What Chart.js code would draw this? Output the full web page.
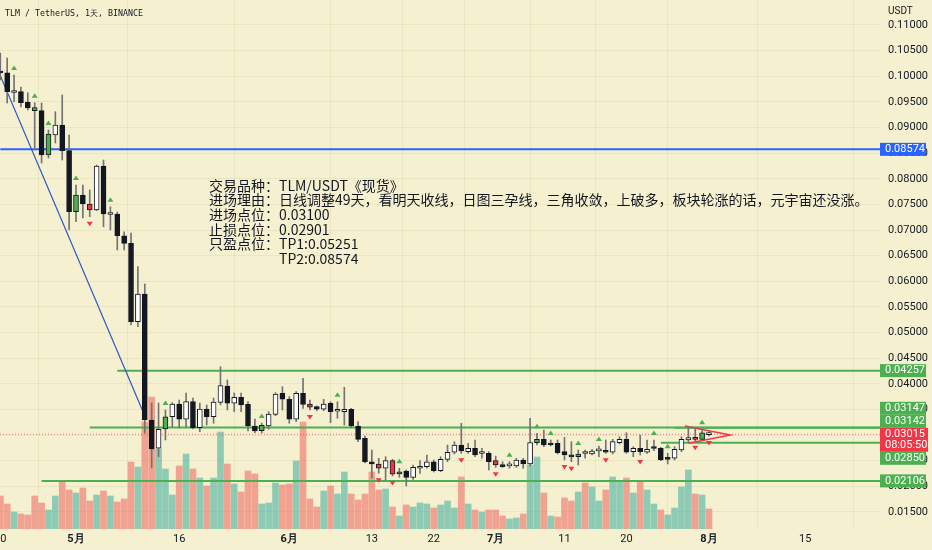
<!DOCTYPE html>
<html>
<head>
<meta charset="utf-8">
<script src="https://cdn.jsdelivr.net/npm/chart.js@4.4.1/dist/chart.umd.min.js"></script>
<style>
  html, body { margin: 0; padding: 0; background: #f5f1d0; }
  #wrap { width: 932px; height: 550px; }
</style>
</head>
<body>
<div id="wrap"><canvas id="chart" width="932" height="550"></canvas></div>
<script>
// TLM / USDT daily candles, 20 Apr -> 1 Aug (index 0 = 20 Apr)
const opens = [
  0.10103, 0.10069, 0.09683, 0.09699, 0.09498, 0.09328, 0.09328, 0.08464, 0.08854, 0.09049,
  0.08548, 0.07358, 0.07683, 0.07508, 0.07391, 0.08249, 0.07303, 0.07313, 0.06889, 0.06741,
  0.05212, 0.05752, 0.03294, 0.02742, 0.03118, 0.03358, 0.03606, 0.03308, 0.03651, 0.03144,
  0.03509, 0.03358, 0.03639, 0.03957, 0.03620, 0.03737, 0.03600, 0.03177, 0.03085, 0.03177,
  0.03405, 0.03815, 0.03698, 0.03308, 0.03815, 0.03606, 0.03557, 0.03503, 0.03620, 0.03464,
  0.03456, 0.03503, 0.03177, 0.02937, 0.02480, 0.02436, 0.02352, 0.02500, 0.02241, 0.02299,
  0.02176, 0.02352, 0.02383, 0.02480, 0.02305, 0.02527, 0.02664, 0.02806, 0.02676, 0.02742,
  0.02640, 0.02644, 0.02500, 0.02416, 0.02398, 0.02396, 0.02514, 0.02436, 0.02851, 0.02917,
  0.02840, 0.02840, 0.02676, 0.02582, 0.02578, 0.02640, 0.02631, 0.02691, 0.02695, 0.02664,
  0.02851, 0.02917, 0.02676, 0.02742, 0.02664, 0.02744, 0.02742, 0.02566, 0.02547, 0.02709,
  0.02904, 0.02956, 0.02917, 0.03010
];
const highs = [
  0.10454, 0.10356, 0.10025, 0.09790, 0.09679, 0.09484, 0.09478, 0.08952, 0.09309, 0.09634,
  0.08854, 0.07879, 0.07879, 0.07781, 0.08268, 0.08366, 0.07455, 0.07352, 0.06967, 0.06942,
  0.06285, 0.05947, 0.03626, 0.03626, 0.03489, 0.03632, 0.03684, 0.03821, 0.03723, 0.03626,
  0.03587, 0.03723, 0.04334, 0.04074, 0.03821, 0.03821, 0.03651, 0.03313, 0.03235, 0.03456,
  0.03827, 0.03944, 0.03749, 0.03846, 0.04107, 0.03684, 0.03567, 0.03698, 0.03651, 0.03651,
  0.03932, 0.03522, 0.03261, 0.02982, 0.02709, 0.02547, 0.02578, 0.02527, 0.02352, 0.02318,
  0.02416, 0.02500, 0.02611, 0.02514, 0.02578, 0.02806, 0.02871, 0.03230, 0.02840, 0.02904,
  0.02742, 0.02676, 0.02591, 0.02480, 0.02480, 0.02547, 0.02547, 0.03327, 0.03034, 0.03099,
  0.02904, 0.02904, 0.02956, 0.02871, 0.02709, 0.02709, 0.02722, 0.02787, 0.02904, 0.02917,
  0.02968, 0.03046, 0.02773, 0.03001, 0.02904, 0.02904, 0.02761, 0.02644, 0.02773, 0.02968,
  0.03163, 0.03132, 0.03113, 0.03066
];
const lows = [
  0.09927, 0.09478, 0.09504, 0.09400, 0.09342, 0.08561, 0.08308, 0.08405, 0.08698, 0.08366,
  0.07001, 0.07163, 0.07235, 0.07260, 0.07377, 0.07065, 0.07001, 0.06610, 0.06610, 0.05147,
  0.05114, 0.03040, 0.02358, 0.02578, 0.02904, 0.03163, 0.03138, 0.03163, 0.03118, 0.03066,
  0.03196, 0.03230, 0.03587, 0.03488, 0.03456, 0.03456, 0.03079, 0.03046, 0.03040, 0.03113,
  0.03378, 0.03489, 0.03230, 0.03261, 0.03522, 0.03489, 0.03475, 0.03475, 0.03241, 0.03327,
  0.03196, 0.03151, 0.02871, 0.02455, 0.02157, 0.02254, 0.02123, 0.02201, 0.02176, 0.02006,
  0.02137, 0.02254, 0.02352, 0.02280, 0.02285, 0.02480, 0.02631, 0.02644, 0.02644, 0.02578,
  0.02547, 0.02318, 0.02371, 0.02371, 0.02352, 0.02371, 0.02352, 0.02396, 0.02806, 0.02773,
  0.02787, 0.02631, 0.02514, 0.02480, 0.02416, 0.02547, 0.02611, 0.02578, 0.02644, 0.02631,
  0.02826, 0.02644, 0.02578, 0.02611, 0.02644, 0.02695, 0.02500, 0.02436, 0.02514, 0.02676,
  0.02871, 0.02890, 0.02904, 0.02982
];
const closes = [
  0.10063, 0.09699, 0.09693, 0.09484, 0.09381, 0.09387, 0.08464, 0.08874, 0.09049, 0.08548,
  0.07358, 0.07683, 0.07508, 0.07391, 0.08249, 0.07313, 0.07313, 0.06889, 0.06741, 0.05212,
  0.05752, 0.03294, 0.02728, 0.03113, 0.03358, 0.03606, 0.03308, 0.03651, 0.03144, 0.03509,
  0.03358, 0.03645, 0.03963, 0.03620, 0.03737, 0.03587, 0.03177, 0.03079, 0.03191, 0.03411,
  0.03801, 0.03698, 0.03308, 0.03815, 0.03600, 0.03542, 0.03503, 0.03606, 0.03456, 0.03470,
  0.03503, 0.03177, 0.02917, 0.02480, 0.02436, 0.02352, 0.02500, 0.02235, 0.02285, 0.02176,
  0.02371, 0.02383, 0.02480, 0.02305, 0.02527, 0.02664, 0.02806, 0.02689, 0.02742, 0.02611,
  0.02646, 0.02480, 0.02416, 0.02383, 0.02404, 0.02514, 0.02436, 0.02851, 0.02917, 0.02806,
  0.02806, 0.02656, 0.02611, 0.02576, 0.02631, 0.02646, 0.02689, 0.02697, 0.02664, 0.02871,
  0.02917, 0.02664, 0.02742, 0.02676, 0.02722, 0.02738, 0.02514, 0.02527, 0.02722, 0.02917,
  0.02949, 0.02917, 0.03046, 0.03015
];
// body colour code per candle: b black, w white, g green, r red
const bodyKinds = 'bbwbbgbgwb' + 'bgbrwbwbbb' + 'wbbwgwbwbw' + 'bwwbwbbbgw' + 'wbbwbrbwbw' +
                  'wbbbbrwrgb' + 'wwwbwwwbwb' + 'wbrbwwbwgb' + 'bbbbgwwwbw' + 'wbwbwbbbww' + 'wrgw';
// relative volume and its direction (u up / d down)
const volumes = [
  33, 25, 17, 15, 14, 33, 26, 19, 33, 48,
  39, 36, 41, 28, 34, 38, 33, 27, 30, 67,
  62, 107, 132, 80, 60, 34, 63, 75, 60, 51,
  43, 51, 97, 65, 45, 37, 58, 55, 25, 26,
  46, 44, 45, 68, 107, 30, 22, 38, 43, 35,
  57, 35, 29, 35, 57, 39, 40, 22, 13, 24,
  22, 26, 25, 21, 24, 28, 21, 52, 25, 19,
  17, 19, 19, 13, 10, 11, 15, 64, 72, 36,
  13, 12, 31, 28, 37, 46, 42, 28, 39, 52,
  48, 51, 36, 48, 39, 25, 19, 14, 21, 42,
  59, 35, 34, 20
];
const volumeDirs = 'ddudddduud' + 'duddududdd' + 'udduuududu' + 'duududdduu' + 'uddudddudu' +
                   'udddddudud' + 'uuuduuudud' + 'uddduuduud' + 'uddduduudu' + 'ududuuduuu' + 'udud';

const upSignals = [2, 5, 7, 11, 16, 24, 38, 49, 58, 74, 78, 80, 84, 87, 95, 97, 102];
const downSignals = [13, 45, 55, 57, 67, 72, 82, 83, 88, 93, 101, 103];

const tickDays = [0, 11, 26, 42, 54, 63, 72, 82, 91, 103, 117];
const tickTexts = ['20', '5月', '16', '6月', '13', '22', '7月', '11', '20', '8月', '15'];

// drawn levels: price, first day, colour
const levelPrices = [0.08574, 0.04257, 0.03147, 0.03142, 0.02850, 0.02106];
const levelStarts = [0, 17, 13, 98, 96, 6];
const levelColors = ['#2962ff', '#4caf50', '#4caf50', '#4caf50', '#4caf50', '#4caf50'];

const lastPrice = 0.03015;
const countdown = '08:05:50';

const trendDays = [0, 20.7];
const trendPrices = [0.10011, 0.03469];
const wedgeDays = [99.5, 106.1, 100];
const wedgePrices = [0.03177, 0.03001, 0.02839];

const noteLines = [
  '交易品种：TLM/USDT《现货》',
  '进场理由：日线调整49天，看明天收线，日图三孕线，三角收敛，上破多，板块轮涨的话，元宇宙还没涨。',
  '进场点位：0.03100',
  '止损点位：0.02901',
  '只盈点位：TP1:0.05251',
  '　　　　　TP2:0.08574'
];

const BG = '#f5f1d0';
const GRID = 'rgba(110, 100, 40, 0.08)';
const TEXT = '#131722';
const bodyFill = { b: '#131722', w: '#ffffff', g: '#4caf50', r: '#f23645' };

const xMin = -0.044;
const xMax = xMin + 127.9;
const days = highs.map((_, i) => i);

const levelDatasets = levelPrices.map((p, k) => ({
  type: 'line',
  data: [{ x: levelStarts[k], y: p }, { x: xMax, y: p }],
  borderColor: levelColors[k],
  borderWidth: 2,
  pointRadius: 0,
  order: 5
}));

const backgroundPlugin = {
  id: 'bg',
  beforeDraw(chart) {
    const ctx = chart.ctx;
    ctx.save();
    ctx.fillStyle = BG;
    ctx.fillRect(0, 0, chart.width, chart.height);
    ctx.restore();
  }
};

const signalPlugin = {
  id: 'signals',
  afterDatasetsDraw(chart) {
    const { ctx, chartArea } = chart;
    const x = chart.scales.x, y = chart.scales.y;
    ctx.save();
    ctx.beginPath();
    ctx.rect(chartArea.left, chartArea.top, chartArea.right - chartArea.left, chartArea.bottom - chartArea.top);
    ctx.clip();
    ctx.fillStyle = '#4caf50';
    upSignals.forEach(i => {
      const px = x.getPixelForValue(i), py = y.getPixelForValue(highs[i]) - 7;
      ctx.beginPath();
      ctx.moveTo(px, py - 2.5);
      ctx.lineTo(px + 3, py + 2);
      ctx.lineTo(px - 3, py + 2);
      ctx.fill();
    });
    ctx.fillStyle = '#f23645';
    downSignals.forEach(i => {
      const px = x.getPixelForValue(i), py = y.getPixelForValue(lows[i]) + 7;
      ctx.beginPath();
      ctx.moveTo(px, py + 2.5);
      ctx.lineTo(px + 3, py - 2);
      ctx.lineTo(px - 3, py - 2);
      ctx.fill();
    });
    ctx.restore();
  }
};

const overlayPlugin = {
  id: 'overlay',
  afterDraw(chart) {
    const ctx = chart.ctx;
    const y = chart.scales.y;
    const axisLeft = chart.chartArea.right;
    ctx.save();

    // header
    ctx.fillStyle = TEXT;
    ctx.textBaseline = 'middle';
    ctx.font = '8.3px "DejaVu Sans Mono", monospace';
    ctx.fillText('TLM / TetherUS, 1天, BINANCE', 5, 14);
    ctx.font = '10px Roboto, sans-serif';
    ctx.fillText('USDT', axisLeft + 8, 11);

    // trade note
    ctx.font = '14px "Noto Sans CJK SC", sans-serif';
    noteLines.forEach((t, k) => ctx.fillText(t, 209, 185.3 + k * 14.7));

    // price tags on the axis
    const box = (cy, bg, lines, w) => {
      const h = 13 + (lines.length - 1) * 11;
      ctx.fillStyle = bg;
      ctx.fillRect(axisLeft, cy - 6.5, w, h);
      ctx.fillStyle = '#ffffff';
      ctx.font = '11px Roboto, sans-serif';
      lines.forEach((t, k) => ctx.fillText(t, axisLeft + 5, cy + k * 11));
    };
    const cy = y.getPixelForValue(lastPrice);
    let top = cy - 6.5, bottom = cy - 6.5 + 24;
    const idx = levelPrices.map((_, k) => k);
    idx.filter(k => levelPrices[k] > lastPrice)
      .sort((a, b) => levelPrices[a] - levelPrices[b])
      .forEach(k => {
        const c = Math.min(y.getPixelForValue(levelPrices[k]), top - 6.5);
        box(c, levelColors[k], [levelPrices[k].toFixed(5)], 46);
        top = c - 6.5;
      });
    idx.filter(k => levelPrices[k] < lastPrice)
      .sort((a, b) => levelPrices[b] - levelPrices[a])
      .forEach(k => {
        const c = Math.max(y.getPixelForValue(levelPrices[k]), bottom + 6.5);
        box(c, levelColors[k], [levelPrices[k].toFixed(5)], 46);
        bottom = c + 6.5;
      });
    box(cy, '#f23645', [lastPrice.toFixed(5), countdown], 48);
    ctx.restore();
  }
};

new Chart(document.getElementById('chart'), {
  data: {
    datasets: [
      {
        type: 'bar',
        label: 'Volume',
        yAxisID: 'yv',
        data: days.map(i => ({ x: i, y: volumes[i] })),
        backgroundColor: days.map(i => volumeDirs[i] === 'u' ? 'rgba(38, 166, 154, 0.5)' : 'rgba(239, 83, 80, 0.5)'),
        barThickness: 6,
        grouped: false,
        order: 6
      },
      ...levelDatasets,
      {
        type: 'line',
        data: [{ x: xMin, y: lastPrice }, { x: xMax, y: lastPrice }],
        borderColor: 'rgba(242, 54, 69, 0.7)',
        borderWidth: 1,
        borderDash: [1, 2],
        pointRadius: 0,
        order: 4
      },
      {
        type: 'line',
        data: trendDays.map((d, k) => ({ x: d, y: trendPrices[k] })),
        borderColor: '#2f55c8',
        borderWidth: 1.2,
        pointRadius: 0,
        order: 3
      },
      {
        type: 'line',
        data: wedgeDays.map((d, k) => ({ x: d, y: wedgePrices[k] })),
        borderColor: '#f23645',
        borderWidth: 1.5,
        pointRadius: 0,
        order: 3
      },
      {
        type: 'bar',
        label: 'Wicks',
        data: days.map(i => ({ x: i, y: [lows[i], highs[i]] })),
        backgroundColor: '#737375',
        barThickness: 1,
        grouped: false,
        order: 2
      },
      {
        type: 'bar',
        label: 'Bodies',
        data: days.map(i => ({ x: i, y: [opens[i], closes[i]] })),
        backgroundColor: days.map(i => bodyFill[bodyKinds[i]]),
        borderColor: '#131722',
        borderWidth: 1,
        borderSkipped: false,
        barThickness: 5,
        minBarLength: 2,
        grouped: false,
        order: 1
      }
    ]
  },
  options: {
    responsive: false,
    animation: false,
    devicePixelRatio: 1,
    layout: { padding: 0 },
    plugins: { legend: { display: false }, tooltip: { enabled: false } },
    scales: {
      x: {
        type: 'linear',
        min: xMin,
        max: xMax,
        offset: false,
        grid: { color: GRID, drawTicks: false },
        border: { display: false },
        afterBuildTicks: axis => { axis.ticks = tickDays.map(v => ({ value: v })); },
        ticks: {
          autoSkip: false,
          maxRotation: 0,
          padding: 4,
          color: TEXT,
          font: ctx => ({
            family: 'Roboto, sans-serif',
            size: 11,
            weight: (tickTexts[tickDays.indexOf(ctx.tick && ctx.tick.value)] || '').includes('月') ? 'bold' : 'normal'
          }),
          callback: v => tickTexts[tickDays.indexOf(v)] || ''
        },
        afterFit: s => { s.height = 21; s.paddingLeft = 0; s.paddingRight = 0; }
      },
      y: {
        type: 'linear',
        position: 'right',
        min: 0.011674,
        max: 0.114877,
        grid: { color: GRID, drawTicks: false },
        border: { display: false },
        ticks: {
          stepSize: 0.005,
          maxTicksLimit: 40,
          includeBounds: false,
          autoSkip: false,
          padding: 8,
          color: TEXT,
          font: { family: 'Roboto, sans-serif', size: 11 },
          callback: v => v.toFixed(5)
        },
        afterFit: s => { s.width = 52; s.paddingTop = 0; s.paddingBottom = 0; }
      },
      yv: { type: 'linear', display: false, min: 0, max: 529 }
    }
  },
  plugins: [backgroundPlugin, signalPlugin, overlayPlugin]
});
</script>
</body>
</html>
